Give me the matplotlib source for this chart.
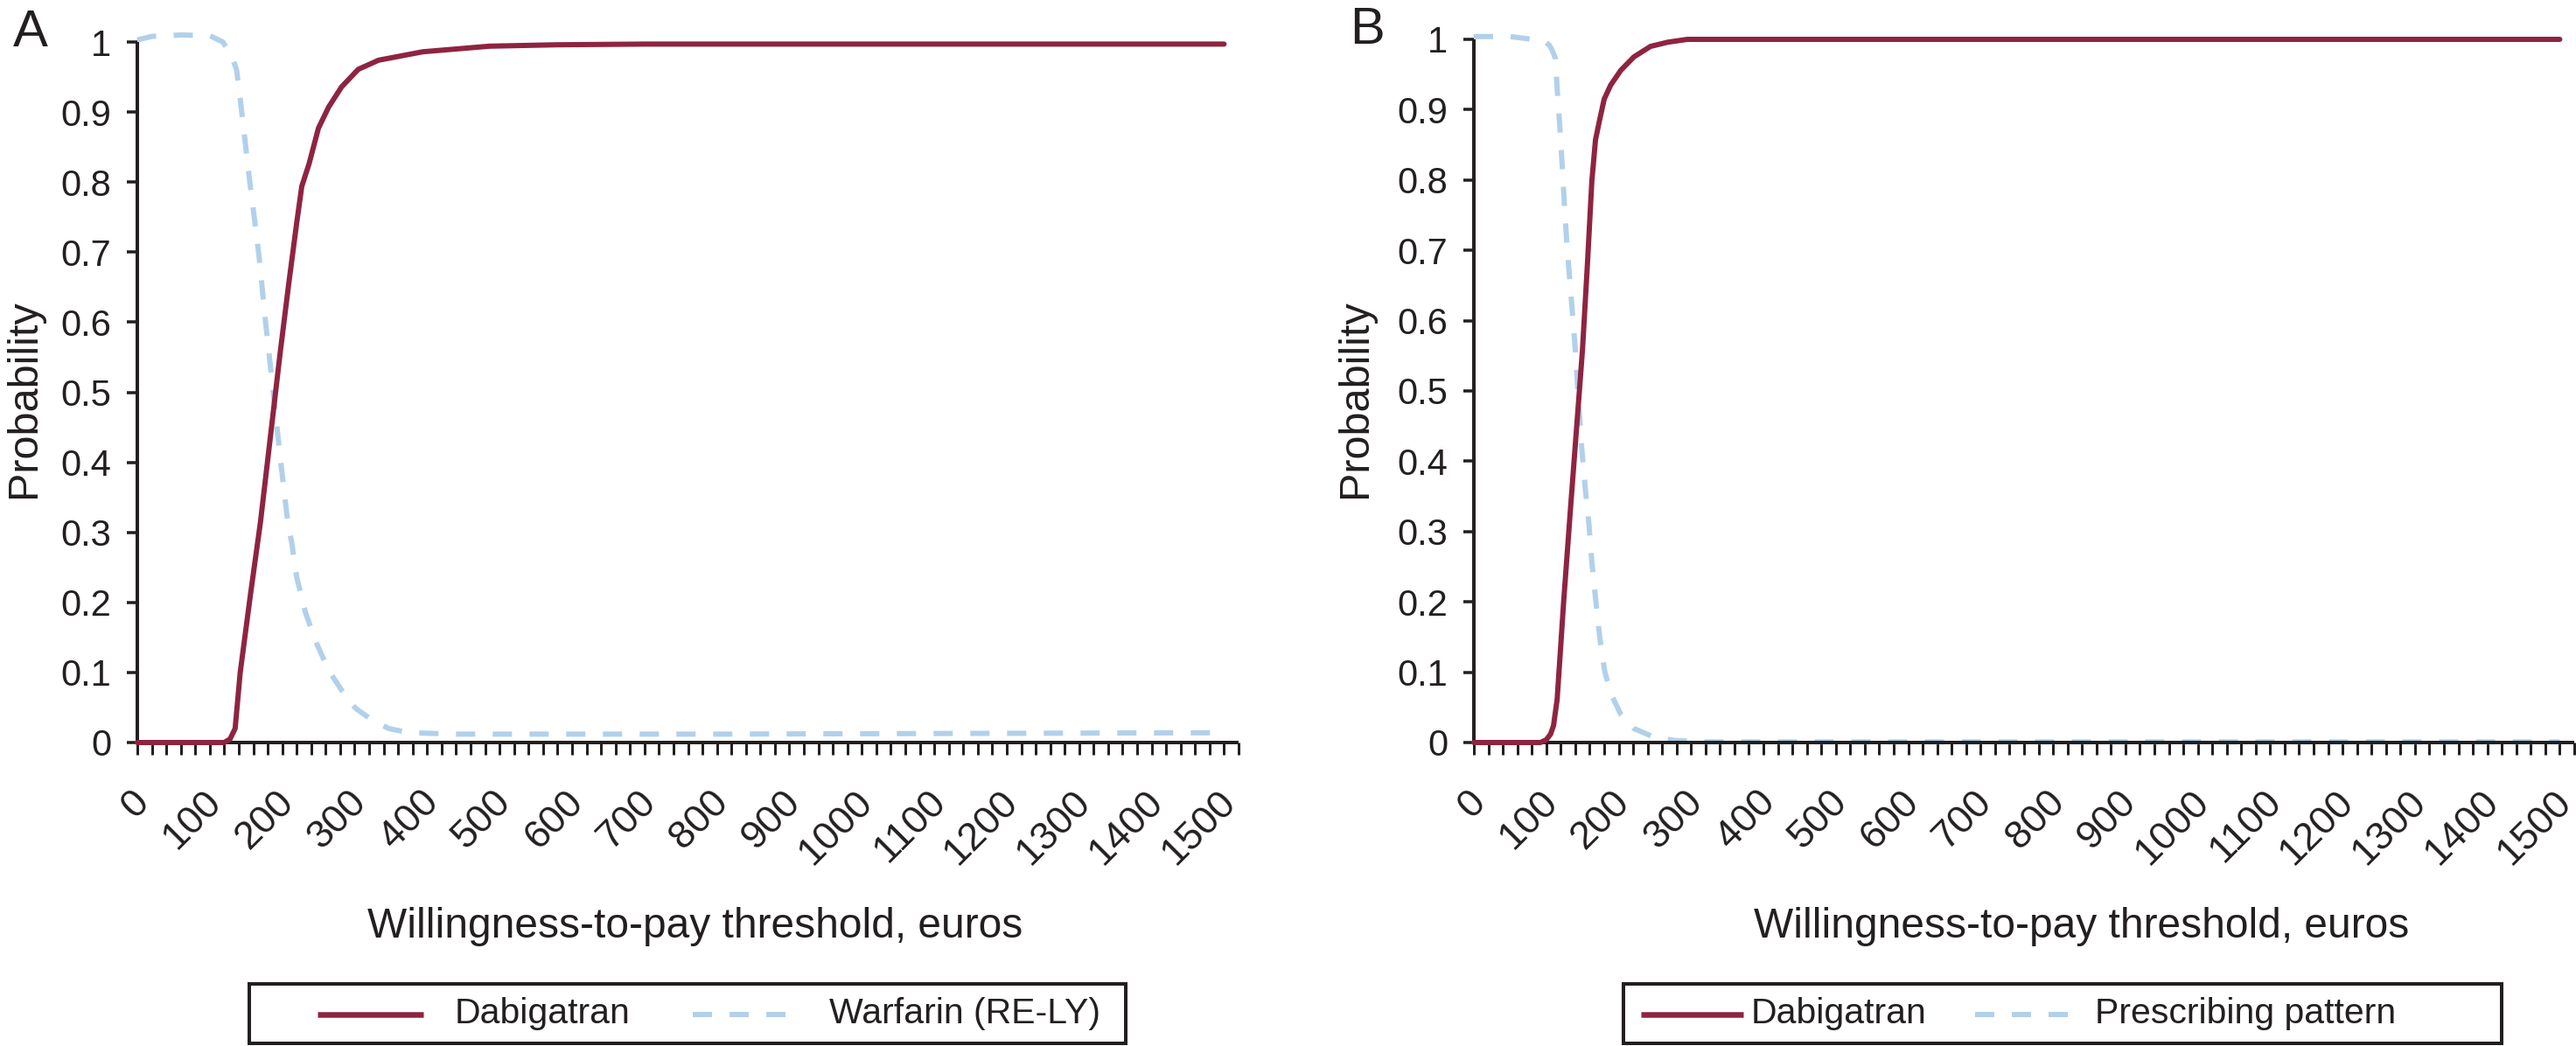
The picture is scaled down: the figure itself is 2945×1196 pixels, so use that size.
import numpy as np
import matplotlib
matplotlib.use("Agg")
import matplotlib.pyplot as plt
import matplotlib.transforms as mtransforms

plt.rcParams['font.family'] = ['Liberation Sans', 'DejaVu Sans']

# ---------------- data ----------------
# Panel A: Dabigatran vs Warfarin (RE-LY)
a_dabi_x = [0, 120, 128, 135, 142, 156, 170, 197, 209, 220, 227, 237, 250, 264, 282,
            305, 333, 394, 486, 579, 700, 1000, 1500]
a_dabi_y = [0.0, 0.0, 0.005, 0.02, 0.10, 0.21, 0.315, 0.555, 0.655, 0.742, 0.794, 0.826,
            0.877, 0.907, 0.936, 0.961, 0.974, 0.986, 0.994, 0.996, 0.997, 0.997, 0.997]
a_warf_x = [0, 20, 60, 100, 118, 127, 132, 137, 143, 149, 155, 161.6, 168, 177, 186,
            198, 208, 213, 220, 232, 246, 264, 282.5, 301, 324, 347, 375, 440, 800, 1500]
a_warf_y = [1.003, 1.008, 1.01, 1.009, 1.0, 0.986, 0.975, 0.96, 0.91, 0.856, 0.802,
            0.748, 0.694, 0.60, 0.515, 0.40, 0.311, 0.286, 0.236, 0.186, 0.145, 0.103,
            0.074, 0.049, 0.032, 0.02, 0.014, 0.012, 0.012, 0.014]

# Panel B: Dabigatran vs Prescribing pattern
b_dabi_x = [0, 92, 100, 106, 110, 115, 119.5, 124, 134, 150, 157, 163, 168, 173, 180,
            189, 203, 221, 244, 268, 295, 1500]
b_dabi_y = [0.0, 0.0, 0.004, 0.012, 0.024, 0.061, 0.13, 0.20, 0.34, 0.558, 0.683, 0.799,
            0.857, 0.882, 0.915, 0.935, 0.956, 0.975, 0.99, 0.996, 1.0, 1.0]
b_pres_x = [0, 50, 96.5, 104, 108, 112.6, 115, 118.6, 121.8, 125, 128.8, 133.4, 138,
            140, 148, 154, 159, 163, 168, 174, 180.6, 189, 203, 221, 249, 277, 314, 1500]
b_pres_y = [1.004, 1.004, 0.998, 0.992, 0.985, 0.973, 0.931, 0.878, 0.824, 0.766, 0.704,
            0.646, 0.587, 0.56, 0.43, 0.36, 0.31, 0.256, 0.206, 0.148, 0.102, 0.07, 0.04,
            0.02, 0.0075, 0.003, 0.001, 0.001]

x_major = list(range(0, 1501, 100))
x_minor = list(range(0, 1521, 20))
y_ticks = [0, 0.1, 0.2, 0.3, 0.4, 0.5, 0.6, 0.7, 0.8, 0.9, 1]
y_labels = ['0', '0.1', '0.2', '0.3', '0.4', '0.5', '0.6', '0.7', '0.8', '0.9', '1']

panel_letters = ['A', 'B']
series_a = ['Dabigatran', 'Warfarin (RE-LY)']
series_b = ['Dabigatran', 'Prescribing pattern']
xlabel_text = 'Willingness-to-pay threshold, euros'
ylabel_text = 'Probability'

# ---------------- style ----------------
W, H = 2945, 1196
DPI = 100
RED = '#8E2441'
BLUE = '#B2D0EA'
INK = '#231F20'
PX = 72.0 / DPI          # points per pixel
LW = 6 * PX
DASH = (22 / 6.0, 20 / 6.0)

fig = plt.figure(figsize=(W / DPI, H / DPI), dpi=DPI)
fig.patch.set_facecolor('white')


def axes_rect(l, r, top, bottom):
    return [l / W, 1 - bottom / H, (r - l) / W, (bottom - top) / H]


def style_axes(ax):
    ax.set_xlim(0, 1520)
    ax.set_ylim(0, 1)
    for s in ['top', 'right']:
        ax.spines[s].set_visible(False)
    for s in ['left', 'bottom']:
        ax.spines[s].set_linewidth(4 * PX)
        ax.spines[s].set_color(INK)
        ax.spines[s].set_capstyle('butt')
    ax.set_yticks(y_ticks)
    ax.set_yticklabels(y_labels)
    ax.set_xticks(x_minor, minor=True)
    ax.set_xticks(x_major)
    ax.set_xticklabels([str(v) for v in x_major])
    ax.tick_params(axis='y', direction='out', length=8.3, width=3.5 * PX, color=INK,
                   labelsize=30, pad=13, labelcolor=INK)
    ax.tick_params(axis='x', which='both', direction='out', length=10, width=3 * PX,
                   color=INK)
    ax.tick_params(axis='x', which='major', labelsize=32.5, pad=24, labelcolor=INK)
    offset = mtransforms.ScaledTranslation(-8 / DPI, 0, fig.dpi_scale_trans)
    for lab in ax.get_xticklabels():
        lab.set_rotation(45)
        lab.set_ha('right')
        lab.set_va('top')
        lab.set_rotation_mode('anchor')
        lab.set_transform(lab.get_transform() + offset)
    ax.patch.set_alpha(0)


def add_legend(l, r, top, bottom, entries):
    lax = fig.add_axes(axes_rect(l, r, top, bottom))
    lax.set_xlim(0, r - l)
    lax.set_ylim(bottom - top, 0)
    lax.set_xticks([])
    lax.set_yticks([])
    for s in lax.spines.values():
        s.set_linewidth(4 * PX)
        s.set_color(INK)
    for (x0, x1, tx, label, color, dashed) in entries:
        if dashed:
            lax.plot([x0, x1], [35, 35], color=color, lw=LW, dashes=DASH,
                     solid_capstyle='butt', dash_capstyle='butt')
        else:
            lax.plot([x0, x1], [35, 35], color=color, lw=6.5 * PX, solid_capstyle='butt')
        lax.text(tx, 45, label, fontsize=29.5, color=INK, ha='left', va='baseline')


# ---------------- panel A ----------------
axA = fig.add_axes(axes_rect(157, 1416, 48, 849))
axA.plot(a_warf_x, a_warf_y, color=BLUE, lw=LW, dashes=DASH, dash_capstyle='butt',
         clip_on=False, zorder=2)
axA.plot(a_dabi_x, a_dabi_y, color=RED, lw=LW, solid_capstyle='round',
         solid_joinstyle='round', clip_on=False, zorder=3)
style_axes(axA)

# ---------------- panel B ----------------
axB = fig.add_axes(axes_rect(1685, 2943, 45, 849))
axB.plot(b_pres_x, b_pres_y, color=BLUE, lw=LW, dashes=DASH, dash_capstyle='butt',
         clip_on=False, zorder=2)
axB.plot(b_dabi_x, b_dabi_y, color=RED, lw=LW, solid_capstyle='round',
         solid_joinstyle='round', clip_on=False, zorder=3)
style_axes(axB)

# ---------------- labels ----------------
fig.text(15 / W, 1 - 53 / H, panel_letters[0], fontsize=43, color=INK, ha='left', va='baseline')
fig.text(1543 / W, 1 - 50 / H, panel_letters[1], fontsize=43, color=INK, ha='left', va='baseline')

fig.text(28 / W, 1 - 456 / H, ylabel_text, rotation=90, fontsize=35, color=INK,
         ha='center', va='center')
fig.text(1550 / W, 1 - 456 / H, ylabel_text, rotation=90, fontsize=35, color=INK,
         ha='center', va='center')

fig.text(795 / W, 1 - 1072 / H, xlabel_text, fontsize=34.5, color=INK, ha='center', va='baseline')
fig.text(2380 / W, 1 - 1072 / H, xlabel_text, fontsize=34.5, color=INK, ha='center', va='baseline')

# ---------------- legends ----------------
add_legend(285, 1287, 1125, 1193, [
    (78, 199, 235, series_a[0], RED, False),
    (507, 614, 663, series_a[1], BLUE, True),
])
add_legend(1856, 2860, 1125, 1193, [
    (20, 137, 146, series_b[0], RED, False),
    (402, 508, 539, series_b[1], BLUE, True),
])

fig.savefig('out.png', dpi=DPI, facecolor='white')
